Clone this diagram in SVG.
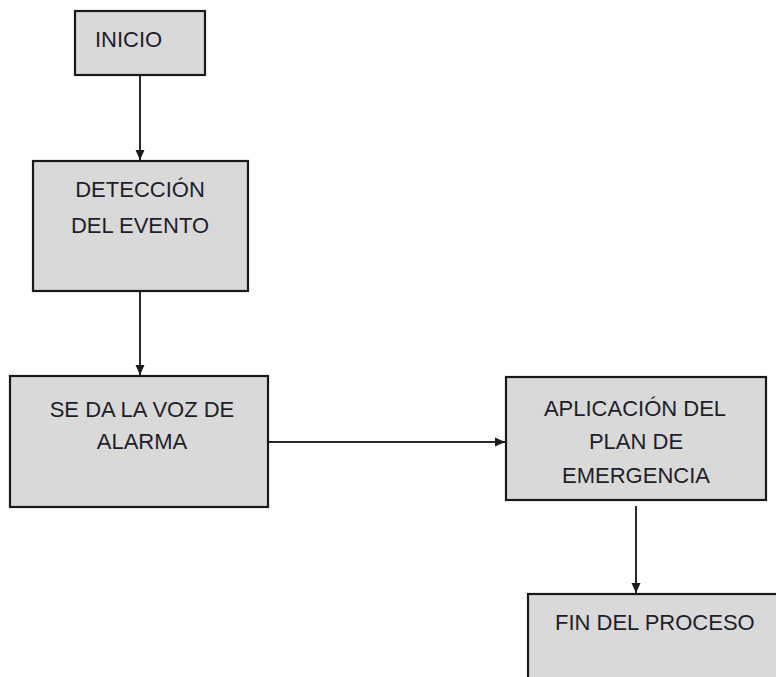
<svg xmlns="http://www.w3.org/2000/svg" width="776" height="677" viewBox="0 0 776 677">
<defs>
<style>
.box{fill:#d9d9d9;stroke:#1a1a1a;stroke-width:2.2}
.t{font-family:"Liberation Sans",Arial,sans-serif;font-size:22px;fill:#1e1e2a}
.c{text-anchor:middle}
.ln{stroke:#2a2a2a;stroke-width:2;fill:none}
</style>
<marker id="ah" viewBox="0 0 10 10" refX="10" refY="5" markerWidth="10" markerHeight="10" markerUnits="userSpaceOnUse" orient="auto">
<path d="M0,0.5 L10,5 L0,9.5 Z" fill="#1a1a1a"/>
</marker>
</defs>
<rect width="776" height="677" fill="#ffffff"/>
<g id="connectors">
<line class="ln" x1="140" y1="75" x2="140" y2="160" marker-end="url(#ah)"/>
<line class="ln" x1="140" y1="292" x2="140" y2="375" marker-end="url(#ah)"/>
<line class="ln" x1="269" y1="442" x2="505" y2="442" marker-end="url(#ah)"/>
<line class="ln" x1="636" y1="506" x2="636" y2="593" marker-end="url(#ah)"/>
</g>
<g id="inicio">
<rect class="box" x="75" y="11" width="130" height="64"/>
<text class="t" x="95" y="47">INICIO</text>
</g>
<g id="deteccion">
<rect class="box" x="33" y="161" width="215" height="130"/>
<text class="t c" x="140" y="197">DETECCIÓN</text>
<text class="t c" x="140" y="233">DEL EVENTO</text>
</g>
<g id="alarma">
<rect class="box" x="10" y="376" width="258" height="131"/>
<text class="t c" x="142" y="417">SE DA LA VOZ DE</text>
<text class="t c" x="142" y="449">ALARMA</text>
</g>
<g id="aplicacion">
<rect class="box" x="506" y="377" width="260" height="123"/>
<text class="t c" x="635" y="416">APLICACIÓN DEL</text>
<text class="t c" x="636" y="449">PLAN DE</text>
<text class="t c" x="636" y="483">EMERGENCIA</text>
</g>
<g id="fin">
<rect class="box" x="528" y="594" width="260" height="100"/>
<text class="t" x="555" y="630">FIN DEL PROCESO</text>
</g>
</svg>
